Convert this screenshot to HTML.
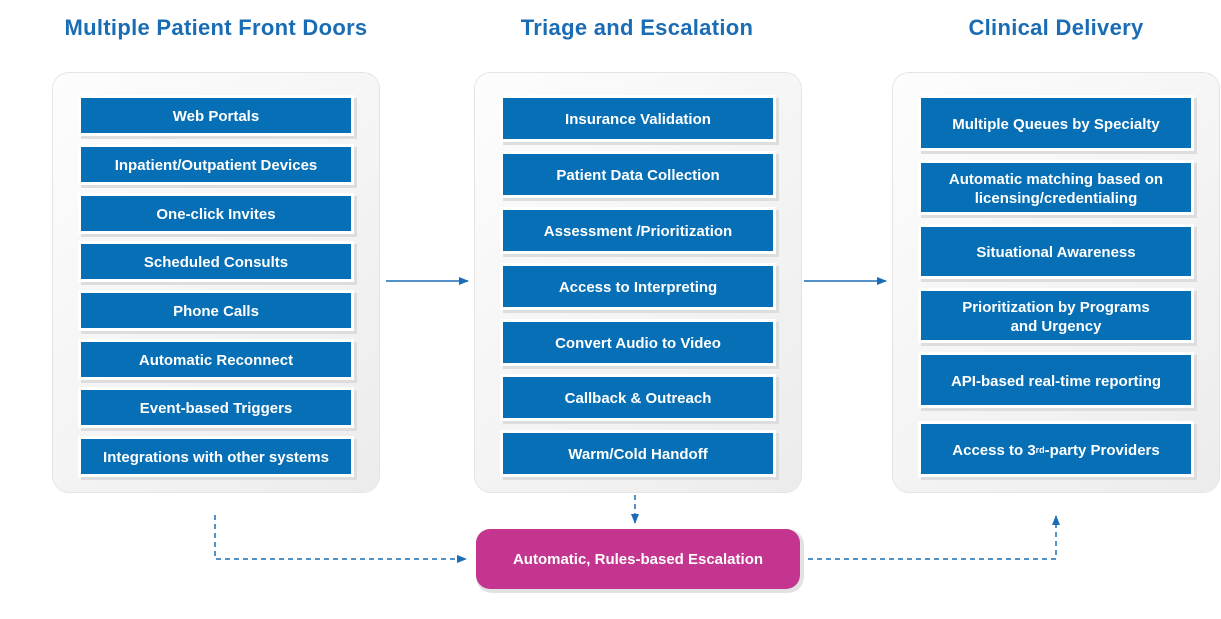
<!DOCTYPE html>
<html><head><meta charset="utf-8"><style>
body{margin:0;width:1221px;height:619px;background:#fff;position:relative;overflow:hidden;font-family:"Liberation Sans",sans-serif}
.t{position:absolute;top:15px;color:#1a6db5;font-weight:bold;font-size:22px;text-align:center;width:400px;letter-spacing:0.3px}
.p{position:absolute;top:73px;height:419px;width:326px;border-radius:16px;background:linear-gradient(135deg,#fdfdfd,#ececec);box-shadow:0 0 0 1px #e4e4e4}
.b{position:absolute;width:270px;background:#066fb6;color:#fff;font-weight:bold;font-size:15px;display:flex;align-items:center;justify-content:center;text-align:center;line-height:19px;padding-top:2px;box-sizing:border-box;box-shadow:0 0 0 3px #fff,3px 3px 0 3px #ddd}
.e{position:absolute;left:476px;top:529px;width:324px;height:60px;border-radius:14px;background:#c3358f;color:#fff;font-size:15px;font-weight:bold;display:flex;align-items:center;justify-content:center;box-shadow:2px 2px 0 2px #e2e2e2}
</style></head><body>
<div class="t" style="left:16px">Multiple Patient Front Doors</div>
<div class="t" style="left:437px">Triage and Escalation</div>
<div class="t" style="left:856px">Clinical Delivery</div>
<div class="p" style="left:53px"></div>
<div class="p" style="left:475px"></div>
<div class="p" style="left:893px"></div>
<div class="b" style="left:81px;top:98px;height:35px">Web Portals</div>
<div class="b" style="left:81px;top:147px;height:35px">Inpatient/Outpatient Devices</div>
<div class="b" style="left:81px;top:196px;height:35px">One-click Invites</div>
<div class="b" style="left:81px;top:244px;height:35px">Scheduled Consults</div>
<div class="b" style="left:81px;top:293px;height:35px">Phone Calls</div>
<div class="b" style="left:81px;top:342px;height:35px">Automatic Reconnect</div>
<div class="b" style="left:81px;top:390px;height:35px">Event-based Triggers</div>
<div class="b" style="left:81px;top:439px;height:35px">Integrations with other systems</div>
<div class="b" style="left:503px;top:98px;height:41px">Insurance Validation</div>
<div class="b" style="left:503px;top:154px;height:41px">Patient Data Collection</div>
<div class="b" style="left:503px;top:210px;height:41px">Assessment /Prioritization</div>
<div class="b" style="left:503px;top:266px;height:41px">Access to Interpreting</div>
<div class="b" style="left:503px;top:322px;height:41px">Convert Audio to Video</div>
<div class="b" style="left:503px;top:377px;height:41px">Callback &amp; Outreach</div>
<div class="b" style="left:503px;top:433px;height:41px">Warm/Cold Handoff</div>
<div class="b" style="left:921px;top:98px;height:50px">Multiple Queues by Specialty</div>
<div class="b" style="left:921px;top:163px;height:49px">Automatic matching based on<br>licensing/credentialing</div>
<div class="b" style="left:921px;top:227px;height:49px">Situational Awareness</div>
<div class="b" style="left:921px;top:291px;height:49px">Prioritization by Programs<br>and Urgency</div>
<div class="b" style="left:921px;top:355px;height:50px">API-based real-time reporting</div>
<div class="b" style="left:921px;top:424px;height:50px">Access to 3<sup style="font-size:9px;line-height:0">rd</sup>-party Providers</div>
<div class="e">Automatic, Rules-based Escalation</div>
<svg width="1221" height="619" style="position:absolute;left:0;top:0">
<defs><marker id="a" markerWidth="10" markerHeight="8" refX="9" refY="4" orient="auto" markerUnits="userSpaceOnUse"><path d="M0,0L10,4L0,8z" fill="#1a6db5"/></marker></defs>
<g stroke="#1a6db5" stroke-width="1.5" fill="none">
<line x1="386" y1="281" x2="468" y2="281" marker-end="url(#a)"/>
<line x1="804" y1="281" x2="886" y2="281" marker-end="url(#a)"/>
<g stroke-dasharray="5,4">
<polyline points="215,515 215,559 466,559" marker-end="url(#a)"/>
<line x1="635" y1="495" x2="635" y2="523" marker-end="url(#a)"/>
<polyline points="808,559 1056,559 1056,516" marker-end="url(#a)"/>
</g></g></svg>
</body></html>
